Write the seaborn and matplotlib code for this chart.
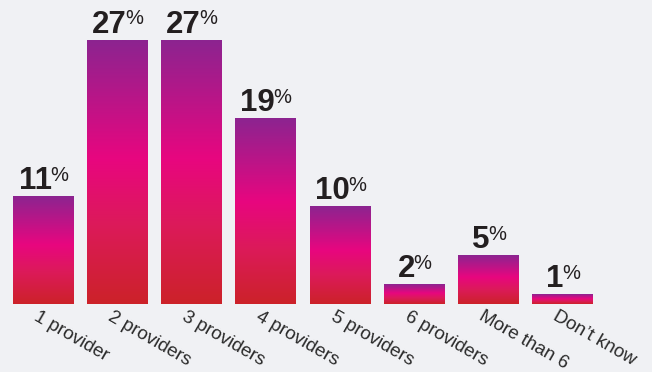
import numpy as np
import pandas as pd
import matplotlib
matplotlib.use("Agg")
import matplotlib.pyplot as plt
import matplotlib.transforms as mtransforms
from matplotlib.colors import LinearSegmentedColormap
import seaborn as sns

categories = ["1 provider", "2 providers", "3 providers", "4 providers",
              "5 providers", "6 providers", "More than 6", "Don\u2019t know"]
values = [11, 27, 27, 19, 10, 2, 5, 1]

BG = "#f0f1f4"
TXT = "#231f20"
PX = 0.72  # points per pixel at dpi 100

sns.set_theme(style="white")
plt.rcParams["font.family"] = ["Liberation Sans", "DejaVu Sans"]

fig = plt.figure(figsize=(6.52, 3.72), dpi=100, facecolor=BG)
ax = fig.add_axes([6 / 652, 1 - 304 / 372, 594 / 652, 264 / 372])
ax.set_facecolor(BG)

df = pd.DataFrame({"cat": categories, "val": values})
sns.barplot(data=df, x="cat", y="val", ax=ax, width=0.82, color="#e6057f",
            saturation=1, linewidth=0)
ax.set_xlim(-0.5, len(categories) - 0.5)
ax.set_ylim(0, 27)

cmap = LinearSegmentedColormap.from_list(
    "grad", [(0.0, "#8c2490"), (0.45, "#e8067f"), (0.7, "#dc1a5a"), (1.0, "#cc2229")])
grad = np.linspace(0, 1, 256).reshape(-1, 1)

for p in ax.patches:
    x0, y0 = p.get_x(), p.get_y()
    w, h = p.get_width(), p.get_height()
    p.set_facecolor("none")
    im = ax.imshow(grad, cmap=cmap, aspect="auto", origin="upper",
                   extent=(x0, x0 + w, y0, y0 + h), zorder=2, interpolation="bilinear")
    im.set_clip_path(p)
ax.set_xlim(-0.5, len(categories) - 0.5)
ax.set_ylim(0, 27)

for i, v in enumerate(values):
    t = ax.annotate(f"{v}", xy=(i, v), xytext=(-8 * PX, 7 * PX), textcoords="offset points",
                    ha="center", va="baseline", fontsize=22.5, fontweight="bold",
                    color=TXT, annotation_clip=False)
    ax.annotate("%", xy=(1, v), xycoords=(t, "data"),
                xytext=(-1.5 * PX, 15.5 * PX), textcoords="offset points",
                ha="left", va="baseline", fontsize=14.5, color=TXT,
                annotation_clip=False)

for s in ax.spines.values():
    s.set_visible(False)
ax.set_yticks([])
ax.set_xlabel("")
ax.set_ylabel("")
ax.tick_params(axis="x", length=0, pad=3)
ax.set_xticks(range(len(categories)))
ax.set_xticklabels(categories, rotation=-30, ha="left", va="top",
                   rotation_mode="anchor", fontsize=13.5, color="#2a2a2a")
off = mtransforms.ScaledTranslation(-4 / 100, 0, fig.dpi_scale_trans)
for lab in ax.get_xticklabels():
    lab.set_transform(lab.get_transform() + off)

fig.savefig("out.png", dpi=100, facecolor=BG)
